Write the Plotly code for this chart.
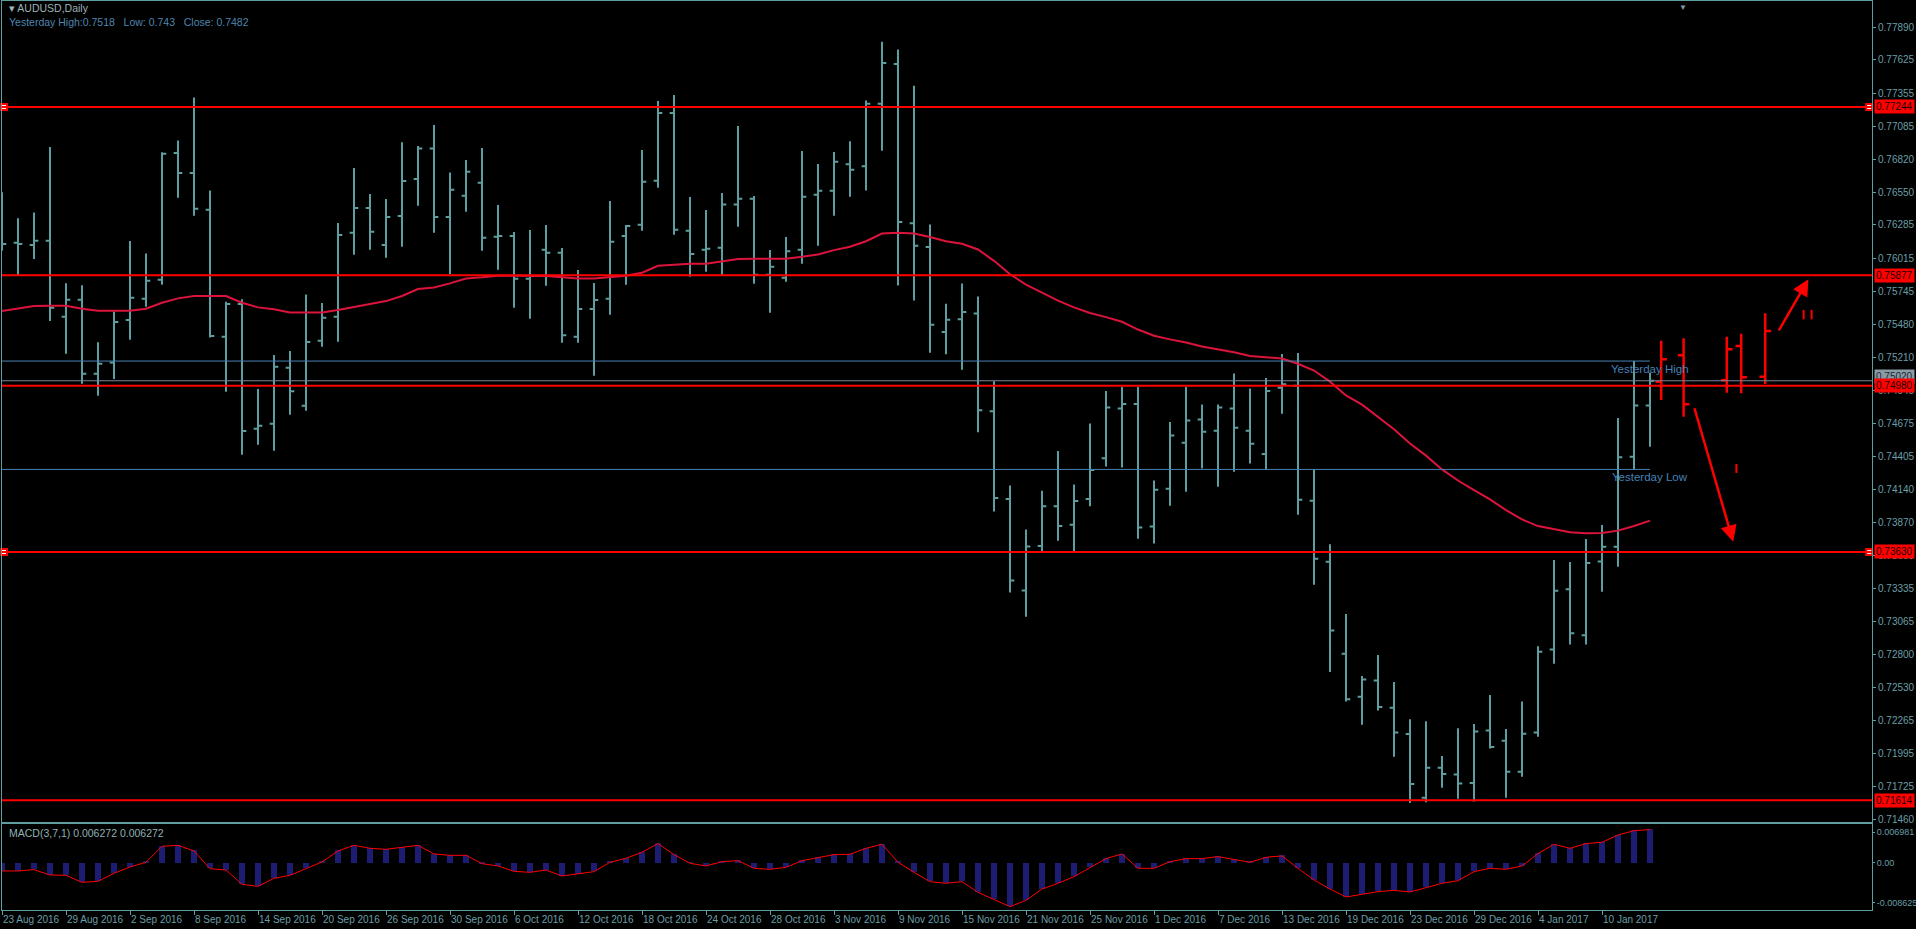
import plotly.graph_objects as go
from plotly.subplots import make_subplots

# AUDUSD daily bars, 23 Aug 2016 .. 13 Jan 2017 (weekdays, bar index 0..103)
bar_open = [0.7622, 0.76141, 0.76122, 0.76157, 0.75540, 0.75678, 0.75077, 0.75169, 0.75513, 0.75686,
            0.75841, 0.76869, 0.76707, 0.76409, 0.75378, 0.75643, 0.74631, 0.74671, 0.75126, 0.74817,
            0.75345, 0.75540, 0.76222, 0.76423, 0.76122, 0.76358, 0.76658, 0.76907, 0.76350, 0.76523,
            0.76628, 0.76190, 0.76195, 0.75849, 0.76084, 0.76060, 0.75378, 0.75602, 0.75686, 0.76195,
            0.76287, 0.76645, 0.77194, 0.76239, 0.76084, 0.76100, 0.76452, 0.76498, 0.75881, 0.75857,
            0.76084, 0.76531, 0.76563, 0.76779, 0.76762, 0.77270, 0.77593, 0.76300, 0.76107, 0.75415,
            0.75520, 0.75566, 0.74773, 0.74060, 0.73317, 0.73678, 0.74001, 0.73850, 0.74060, 0.74391,
            0.74794, 0.74832, 0.73837, 0.74144, 0.74517, 0.74706, 0.74614, 0.74794, 0.74614, 0.74425,
            0.74963, 0.74979, 0.74045, 0.73550, 0.72803, 0.72454, 0.72585, 0.72364, 0.72152, 0.71634,
            0.71878, 0.71822, 0.71754, 0.72180, 0.72096, 0.71844, 0.72163, 0.72837, 0.73326, 0.72953,
            0.73553, 0.73673, 0.74403, 0.74820]
bar_high = [0.76550, 0.76339, 0.76387, 0.76918, 0.75811, 0.75795, 0.75332, 0.75583, 0.76155, 0.76054,
            0.76875, 0.76972, 0.77321, 0.76566, 0.75662, 0.75681, 0.74953, 0.75229, 0.75261, 0.75721,
            0.75651, 0.76301, 0.76747, 0.76536, 0.76496, 0.76956, 0.76926, 0.77097, 0.76712, 0.76812,
            0.76910, 0.76447, 0.76228, 0.76244, 0.76285, 0.76098, 0.75919, 0.75814, 0.76479, 0.76285,
            0.76894, 0.77292, 0.77340, 0.76512, 0.76406, 0.76544, 0.77088, 0.76520, 0.76081, 0.76187,
            0.76885, 0.76780, 0.76877, 0.76965, 0.77295, 0.77773, 0.77710, 0.77416, 0.76288, 0.75646,
            0.75809, 0.75704, 0.75016, 0.74169, 0.73812, 0.74127, 0.74450, 0.74177, 0.74672, 0.74937,
            0.74970, 0.74970, 0.74211, 0.74685, 0.74970, 0.74827, 0.74827, 0.75079, 0.74958, 0.75042,
            0.75237, 0.75245, 0.74303, 0.73693, 0.73125, 0.72622, 0.72792, 0.72574, 0.72272, 0.72255,
            0.71973, 0.72199, 0.72233, 0.72468, 0.72191, 0.72415, 0.72865, 0.73564, 0.73548, 0.73735,
            0.73849, 0.74717, 0.75180, 0.75086]
bar_low = [0.76076, 0.75878, 0.76008, 0.75505, 0.75240, 0.74996, 0.74899, 0.75034, 0.75353, 0.75621,
           0.75800, 0.76507, 0.76360, 0.75372, 0.74931, 0.74419, 0.74501, 0.74452, 0.74744, 0.74777,
           0.75296, 0.75337, 0.76044, 0.76084, 0.76019, 0.76109, 0.76442, 0.76222, 0.75887, 0.76393,
           0.76076, 0.75922, 0.75613, 0.75524, 0.75792, 0.75329, 0.75329, 0.75061, 0.75556, 0.75800,
           0.76239, 0.76588, 0.76206, 0.75865, 0.75906, 0.75881, 0.76271, 0.75808, 0.75573, 0.75824,
           0.75970, 0.76117, 0.76360, 0.76514, 0.76565, 0.76888, 0.75793, 0.75671, 0.75247, 0.75235,
           0.75109, 0.74601, 0.73959, 0.73300, 0.73103, 0.73627, 0.73720, 0.73627, 0.74001, 0.74324,
           0.74316, 0.73736, 0.73699, 0.74005, 0.74118, 0.74307, 0.74160, 0.74282, 0.74349, 0.74295,
           0.74753, 0.73931, 0.73363, 0.72655, 0.72415, 0.72227, 0.72342, 0.71967, 0.71592, 0.71598,
           0.71715, 0.71626, 0.71603, 0.72034, 0.71634, 0.71805, 0.72129, 0.72722, 0.72879, 0.72879,
           0.73307, 0.73510, 0.74300, 0.74485]
bar_close = [0.76130, 0.76130, 0.76157, 0.75613, 0.75678, 0.75077, 0.75158, 0.75497, 0.75694, 0.75832,
             0.76864, 0.76707, 0.76417, 0.75383, 0.75643, 0.74612, 0.74655, 0.75134, 0.74934, 0.75334,
             0.75532, 0.76203, 0.76423, 0.76230, 0.76350, 0.76642, 0.76907, 0.76350, 0.76571, 0.76718,
             0.76182, 0.76195, 0.75849, 0.75870, 0.76060, 0.75389, 0.75602, 0.75675, 0.76149, 0.76276,
             0.76636, 0.77194, 0.76247, 0.76049, 0.76092, 0.76452, 0.76498, 0.75881, 0.75946, 0.76071,
             0.76515, 0.76563, 0.76799, 0.76733, 0.77270, 0.77601, 0.76309, 0.76116, 0.75474, 0.75516,
             0.75579, 0.74781, 0.74068, 0.73397, 0.73674, 0.74001, 0.73841, 0.74043, 0.74295, 0.74802,
             0.74832, 0.73829, 0.74135, 0.74576, 0.74697, 0.74605, 0.74802, 0.74639, 0.74509, 0.74937,
             0.74991, 0.74054, 0.73575, 0.72991, 0.72434, 0.72594, 0.72370, 0.72163, 0.71746, 0.71878,
             0.71827, 0.71749, 0.72171, 0.72045, 0.71844, 0.72154, 0.72820, 0.73315, 0.72969, 0.73540,
             0.73673, 0.74398, 0.74820, 0.75020]

# moving average overlay (red line)
ma_line = [0.75586, 0.75605, 0.75627, 0.75629, 0.75629, 0.75605, 0.75589, 0.75589, 0.75589, 0.75605,
           0.75654, 0.75689, 0.75708, 0.75708, 0.75708, 0.75654, 0.75616, 0.75600, 0.75575, 0.75575,
           0.75575, 0.75594, 0.75621, 0.75643, 0.75667, 0.75708, 0.75765, 0.75778, 0.75811, 0.75851,
           0.75860, 0.75873, 0.75873, 0.75873, 0.75870, 0.75860, 0.75851, 0.75851, 0.75865, 0.75873,
           0.75897, 0.75954, 0.75962, 0.75971, 0.75971, 0.75987, 0.76008, 0.76011, 0.76011, 0.76011,
           0.76027, 0.76046, 0.76081, 0.76108, 0.76153, 0.76216, 0.76221, 0.76216, 0.76187, 0.76153,
           0.76132, 0.76086, 0.75994, 0.75885, 0.75801, 0.75738, 0.75671, 0.75616, 0.75570, 0.75537,
           0.75499, 0.75436, 0.75386, 0.75356, 0.75331, 0.75298, 0.75277, 0.75251, 0.75222, 0.75209,
           0.75200, 0.75158, 0.75103, 0.75013, 0.74901, 0.74826, 0.74725, 0.74627, 0.74510, 0.74412,
           0.74300, 0.74210, 0.74132, 0.74056, 0.73970, 0.73894, 0.73840, 0.73813, 0.73789, 0.73781,
           0.73784, 0.73803, 0.73840, 0.73884]

# MACD(3,7,1): main and signal are identical with signal period 1
macd_main = [-0.00150, -0.00150, -0.00125, -0.00226, -0.00232, -0.00364, -0.00345, -0.00194, -0.00075, 0.00013,
             0.00314, 0.00332, 0.00226, -0.00107, -0.00132, -0.00401, -0.00439, -0.00288, -0.00232, -0.00100,
             0.00019, 0.00226, 0.00332, 0.00276, 0.00257, 0.00295, 0.00332, 0.00169, 0.00144, 0.00144,
             -0.00013, -0.00056, -0.00157, -0.00176, -0.00132, -0.00245, -0.00207, -0.00163, 0.00013, 0.00088,
             0.00201, 0.00364, 0.00157, -0.00006, -0.00056, 0.00025, 0.00044, -0.00100, -0.00119, -0.00082,
             0.00044, 0.00100, 0.00157, 0.00163, 0.00276, 0.00351, 0.00013, -0.00176, -0.00351, -0.00382,
             -0.00351, -0.00552, -0.00683, -0.00821, -0.00702, -0.00489, -0.00382, -0.00257, -0.00088, 0.00082,
             0.00169, -0.00100, -0.00100, 0.00025, 0.00082, 0.00082, 0.00119, 0.00069, 0.00013, 0.00107,
             0.00132, -0.00100, -0.00320, -0.00489, -0.00640, -0.00589, -0.00539, -0.00514, -0.00545, -0.00464,
             -0.00382, -0.00332, -0.00163, -0.00100, -0.00119, -0.00056, 0.00176, 0.00351, 0.00276, 0.00364,
             0.00389, 0.00526, 0.00607, 0.006272]
macd_signal = list(macd_main)

date_ticks = ["23 Aug 2016", "29 Aug 2016", "2 Sep 2016", "8 Sep 2016", "14 Sep 2016", "20 Sep 2016",
              "26 Sep 2016", "30 Sep 2016", "6 Oct 2016", "12 Oct 2016", "18 Oct 2016", "24 Oct 2016",
              "28 Oct 2016", "3 Nov 2016", "9 Nov 2016", "15 Nov 2016", "21 Nov 2016", "25 Nov 2016",
              "1 Dec 2016", "7 Dec 2016", "13 Dec 2016", "19 Dec 2016", "23 Dec 2016", "29 Dec 2016",
              "4 Jan 2017", "10 Jan 2017"]
price_ticks = [0.7146, 0.71725, 0.71995, 0.72265, 0.7253, 0.728, 0.73065, 0.73335, 0.73605, 0.7387,
               0.7414, 0.74405, 0.74675, 0.74945, 0.7521, 0.7548, 0.75745, 0.76015, 0.76285, 0.7655,
               0.7682, 0.77085, 0.77355, 0.77625, 0.7789]

# hand drawn levels and projection
levels = [0.77244, 0.75877, 0.74980, 0.73630, 0.71614]
yest_high, yest_low, yest_close = 0.7518, 0.743, 0.7482
bid = 0.75020

proj_x = [103.7, 105.1, 107.8, 108.7, 110.2]
proj_open = [0.75012, 0.75227, 0.75024, 0.75302, 0.75053]
proj_high = [0.75345, 0.75365, 0.75378, 0.75402, 0.75568]
proj_low = [0.74864, 0.74728, 0.74923, 0.74918, 0.74994]
proj_close = [0.75194, 0.74829, 0.75275, 0.75048, 0.75424]

arrow_down = [(105.75, 0.74809), (108.2, 0.73713)]
arrow_up = [(111.0, 0.75417), (112.9, 0.75844)]
tick_marks_x = [108.4, 108.4, None, 112.6, 112.6, None, 113.1, 113.1]
tick_marks_y = [0.74344, 0.74271, None, 0.75595, 0.75519, None, 0.75595, 0.75519]

handle_x = [0.125, 116.7, 0.125, 116.7]
handle_y = [0.77244, 0.77244, 0.73630, 0.73630]

TEAL = "#5f9ea0"
LABEL = "#6a9ea6"
RED = "#ff0000"
FONT = "Liberation Sans"

idx = list(range(len(bar_close)))

fig = make_subplots(rows=2, cols=1, shared_xaxes=True)

fig.add_trace(go.Ohlc(
    x=idx, open=bar_open, high=bar_high, low=bar_low, close=bar_close,
    increasing_line_color=TEAL, decreasing_line_color=TEAL,
    line_width=2, tickwidth=0.3, hoverinfo="skip"), row=1, col=1)

fig.add_trace(go.Scatter(x=idx, y=ma_line, mode="lines",
                         line=dict(color="#dc143c", width=2), hoverinfo="skip"), row=1, col=1)

fig.add_trace(go.Ohlc(
    x=proj_x, open=proj_open, high=proj_high, low=proj_low, close=proj_close,
    increasing_line_color=RED, decreasing_line_color=RED,
    line_width=2.5, tickwidth=0.4, hoverinfo="skip"), row=1, col=1)

fig.add_trace(go.Scatter(x=tick_marks_x, y=tick_marks_y, mode="lines",
                         line=dict(color=RED, width=2), hoverinfo="skip"), row=1, col=1)

fig.add_trace(go.Scatter(x=handle_x, y=handle_y, mode="markers",
                         marker=dict(symbol="square", size=6, color="white",
                                     line=dict(color=RED, width=2)),
                         hoverinfo="skip", cliponaxis=False), row=1, col=1)

# MACD window
fig.add_trace(go.Bar(x=idx, y=macd_main, width=0.32, marker_color="#1c1c72",
                     marker_line_width=0, hoverinfo="skip"), row=2, col=1)
fig.add_trace(go.Scatter(x=idx, y=macd_signal, mode="lines",
                         line=dict(color=RED, width=1), hoverinfo="skip"), row=2, col=1)

shapes = []
for lv in levels:
    shapes.append(dict(type="line", xref="x domain", yref="y", x0=0, x1=1, y0=lv, y1=lv,
                       line=dict(color=RED, width=2)))
shapes.append(dict(type="line", xref="x domain", yref="y", x0=0, x1=1, y0=bid, y1=bid,
                   line=dict(color="#778899", width=1)))
for yv in (yest_high, yest_low):
    shapes.append(dict(type="line", xref="x", yref="y", x0=-1, x1=idx[-1], y0=yv, y1=yv,
                       line=dict(color="#4682b4", width=1)))

annotations = []
# price labels on the right scale
annotations.append(dict(xref="paper", yref="y", x=1, y=bid, xanchor="left", yanchor="bottom",
                        xshift=2, yshift=-3, text=f"{bid:.5f}", showarrow=False, bgcolor="#8a9ba8",
                        borderpad=1, font=dict(family=FONT, size=10, color="#20282c")))
for lv in levels:
    annotations.append(dict(xref="paper", yref="y", x=1, y=lv, xanchor="left", yanchor="middle",
                            xshift=2, text=f"{lv:.5f}", showarrow=False, bgcolor=RED,
                            borderpad=1, font=dict(family=FONT, size=10, color="#1a0000")))

annotations.append(dict(xref="x", yref="y", x=idx[-1], y=yest_high, yanchor="top", xanchor="center",
                        text="Yesterday High", showarrow=False,
                        font=dict(family=FONT, size=11.5, color="#4682b4")))
annotations.append(dict(xref="x", yref="y", x=idx[-1], y=yest_low, yanchor="top", xanchor="center",
                        text="Yesterday Low", showarrow=False,
                        font=dict(family=FONT, size=11.5, color="#4682b4")))

for tail, head in (arrow_down, arrow_up):
    annotations.append(dict(xref="x", yref="y", axref="x", ayref="y",
                            x=head[0], y=head[1], ax=tail[0], ay=tail[1], text="",
                            showarrow=True, arrowhead=2, arrowsize=1.3, arrowwidth=2.5,
                            arrowcolor=RED))

nb = "\u00a0"
annotations.append(dict(xref="paper", yref="paper", x=0.0027, y=0.9923, xanchor="left",
                        yanchor="middle", showarrow=False, text="▾ AUDUSD,Daily",
                        font=dict(family=FONT, size=10.5, color="#9fb3b8")))
annotations.append(dict(xref="paper", yref="paper", x=0.0027, y=0.9769, xanchor="left",
                        yanchor="middle", showarrow=False,
                        text=f"Yesterday High:{yest_high}{nb*3}Low: {yest_low}{nb*3}Close: {yest_close}",
                        font=dict(family=FONT, size=10.5, color="#4f86b0")))
annotations.append(dict(xref="paper", yref="paper", x=0.0027, y=0.0847, xanchor="left",
                        yanchor="middle", showarrow=False,
                        text=f"MACD(3,7,1) {macd_main[-1]:.6f} {macd_signal[-1]:.6f}",
                        font=dict(family=FONT, size=10.5, color="#8fb0b5")))
annotations.append(dict(xref="paper", yref="paper", x=0.8989, y=1.0, xanchor="center",
                        yanchor="top", showarrow=False, text="▼",
                        font=dict(family=FONT, size=8, color="#8a9aa0")))

fig.update_layout(
    width=1916, height=929,
    margin=dict(l=2, r=44, t=1, b=19),
    paper_bgcolor="black", plot_bgcolor="black",
    showlegend=False, bargap=0,
    shapes=shapes, annotations=annotations,
    font=dict(family=FONT, size=10, color=LABEL),
)

axis_common = dict(showgrid=False, zeroline=False, showline=True, mirror=True,
                   linecolor=TEAL, linewidth=1, automargin=False)

fig.update_xaxes(range=[0, 116.875], rangeslider_visible=False, **axis_common)
fig.update_xaxes(showticklabels=False, ticks="", row=1, col=1)
fig.update_xaxes(tickmode="array", tickvals=list(range(0, len(idx), 4)), ticktext=date_ticks,
                 ticks="outside", ticklen=4, tickcolor=TEAL, ticklabelposition="outside right",
                 tickangle=0, tickfont=dict(family=FONT, size=10, color=LABEL), row=2, col=1)

fig.update_yaxes(side="right", **axis_common)
fig.update_yaxes(domain=[0.0963, 1.0], range=[0.71433, 0.78104],
                 tickmode="array", tickvals=price_ticks,
                 ticktext=[f"{v:.5f}" for v in price_ticks],
                 ticks="outside", ticklen=3, tickcolor=TEAL,
                 tickfont=dict(family=FONT, size=10, color=LABEL), row=1, col=1)
fig.update_yaxes(domain=[0.0, 0.0941], range=[-0.008836, 0.007238],
                 tickmode="array", tickvals=[0.00577, 0.0, -0.00752],
                 ticktext=["0.006981", "0.00", "-0.008625"],
                 ticks="outside", ticklen=2, tickcolor=TEAL,
                 tickfont=dict(family=FONT, size=9, color=LABEL), row=2, col=1)

# page has a default body margin; drop it so the 1916x929 figure fits the window
fig.write_html("out.html", config={"displayModeBar": False},
               post_script="document.body.style.margin='0';document.body.style.overflow='hidden';")
